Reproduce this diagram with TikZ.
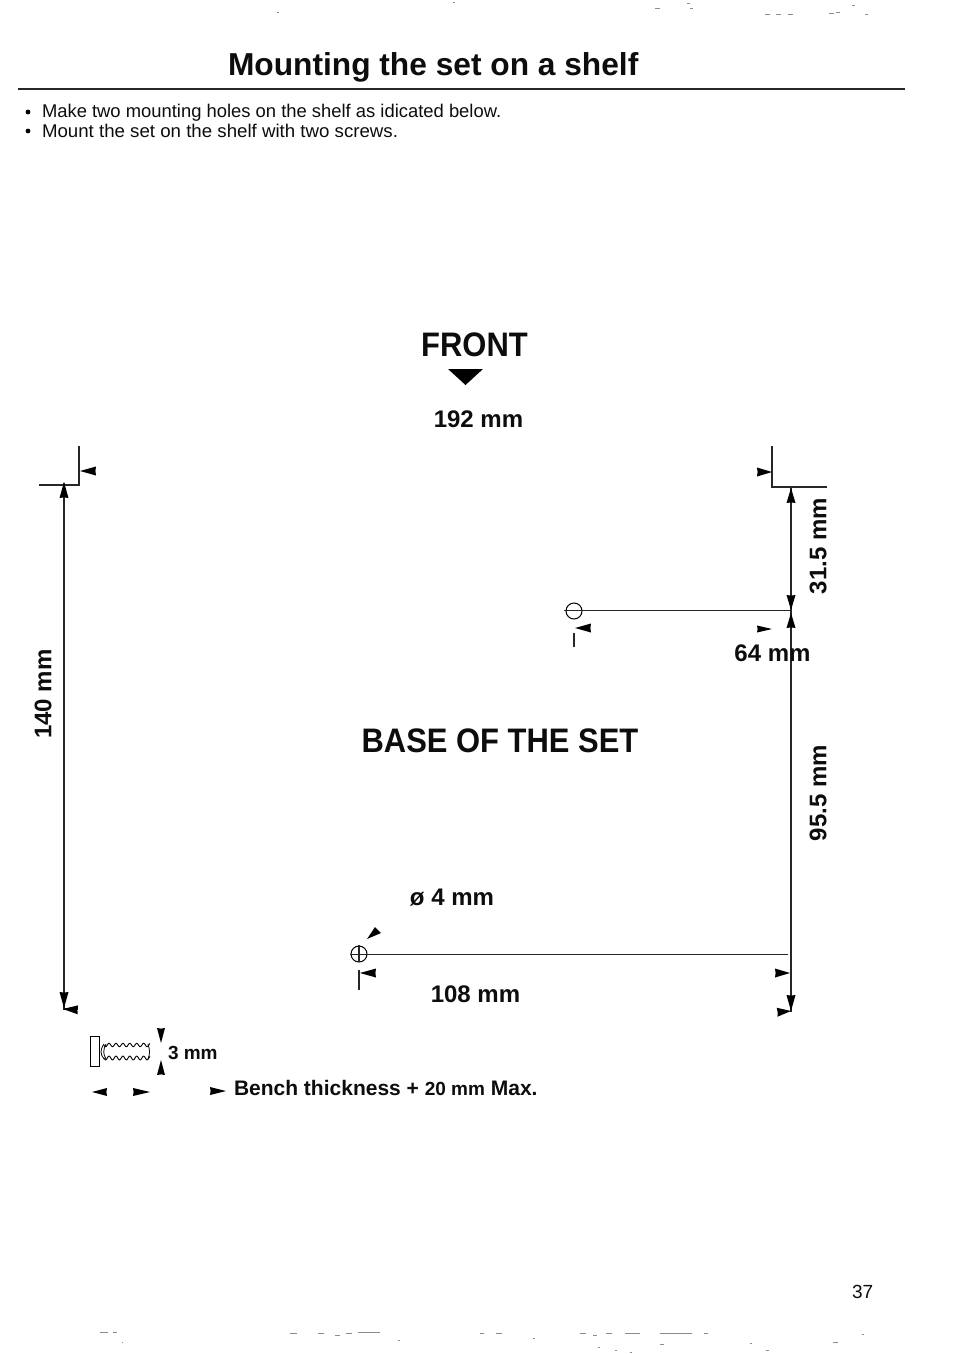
\documentclass[tikz,border=0pt]{standalone}
\usepackage{fontspec}
\setmainfont{Liberation Sans}
\newcommand\ahead[5]{\fill[black,shift={(#1,#2)},rotate=#3] (0,0) -- (-#4,#5) -- (-#4+.6,0) -- (-#4,-#5) -- cycle;}
\newcommand\fsz[1]{\fontsize{#1}{#1}\selectfont}
\tikzset{
  lbl/.style={inner sep=0pt,outer sep=0pt,text=black!95},
  dim/.style={lbl,font=\fsz{24}\bfseries},
  big/.style={lbl,font=\fsz{34}\bfseries,xscale=.91},
  body/.style={lbl,anchor=base west,font=\fsz{18.4}},
  ln/.style={line width=1.1pt,black!85},
  hole/.style={circle,draw=black,line width=1pt,minimum size=16pt,inner sep=0pt},
  speck/.style={line width=.6pt,black!45}
}
\begin{document}
\begin{tikzpicture}[x=1pt,y=-1pt]
\useasboundingbox[fill=white] (0,0) rectangle (954,1354);
% header
\node[lbl,anchor=west,font=\fsz{31.7}\bfseries] (title) at (228,67.5) {Mounting the set on a shelf};
\coordinate (ruleL) at (18,89); \coordinate (ruleR) at (905,89);
\draw[ln] (ruleL) -- (ruleR);
\node[body] (b1) at (42,117) {Make two mounting holes on the shelf as idicated below.};
\node[body,xscale=1.015] (b2) at (42,137) {Mount the set on the shelf with two screws.};
\fill (28,112) circle (2.4); \fill (28,131) circle (2.4);
% front
\node[big] (front) at (474.5,345) {FRONT};
\fill (448,369) -- (483,369) -- (465.5,385) -- cycle;
\node[dim] (d192) at (478.5,419) {192 mm};
\node[big] (base) at (500,741) {BASE OF THE SET};
% left corner
\coordinate (lt) at (79,446); \coordinate (lc) at (79,485); \coordinate (lh) at (39,485);
\draw[ln] (lt) -- (lc) -- (lh);
\ahead{80}{471}{180}{16}{4.5}
% left dim
\coordinate (l1) at (64,483); \coordinate (l2) at (64,1009); \coordinate (l3) at (78,1009);
\draw[ln] (l1) -- (l2) -- (l3);
\ahead{64}{482}{90}{16}{4.5}
\ahead{64}{1008}{270}{16}{4.5}
\ahead{63}{1009}{177}{15}{4.5}
\node[lbl,rotate=90,font=\fsz{24}\bfseries] (d140) at (43,694) {140 mm};
% right corner
\coordinate (rt) at (772,446); \coordinate (rc) at (772,487); \coordinate (rh) at (827,487);
\draw[ln] (rt) -- (rc) -- (rh);
\ahead{772}{472}{0}{15}{4.5}
% right dim
\coordinate (r1) at (791,487); \coordinate (r2) at (791,1012);
\draw[ln] (r1) -- (r2);
\ahead{791}{488}{90}{15}{4.5}
\ahead{791}{610}{270}{15}{4.5}
\ahead{791}{613}{90}{15}{4.5}
\ahead{791}{1011}{270}{16}{4.5}
\ahead{791}{1011}{5}{14}{4.5}
\node[lbl,rotate=90,font=\fsz{24}\bfseries] (d315) at (818,546) {31.5 mm};
\node[lbl,rotate=90,font=\fsz{24}\bfseries] (d955) at (818,793) {95.5 mm};
% upper hole
\node[hole] (h1) at (574,611) {};
\coordinate (h1e) at (791,610.5); \coordinate (h1w) at (564,610.5);
\draw[ln] (h1w) -- (h1e);
\coordinate (h1a) at (574,633); \coordinate (h1b) at (574,647);
\draw[ln] (h1a) -- (h1b);
\ahead{575}{628}{180}{16}{4.5}
\ahead{772}{629}{0}{15}{3.5}
\node[dim] (d64) at (772.5,653) {64 mm};
% lower hole
\node[hole] (h2) at (359,954) {};
\coordinate (h2e) at (788,954.5); \coordinate (h2w) at (350,954.5);
\draw[ln] (h2w) -- (h2e);
\coordinate (h2t) at (359,945); \coordinate (h2m) at (359,962);
\coordinate (h2n) at (359,970); \coordinate (h2b) at (359,990);
\draw[ln] (h2t) -- (h2m) (h2n) -- (h2b);
\ahead{360}{973}{180}{16}{4.5}
\ahead{790}{973}{0}{15}{4.5}
\fill (367,939) -- (375,927) -- (381,933) -- cycle;
\node[lbl,font=\fsz{24}\bfseries] (d4) at (452,898) {ø 4 mm};
\node[dim] (d108) at (475.5,994) {108 mm};
% screw
\node[draw=black,line width=1pt,inner sep=0pt,minimum width=9pt,minimum height=30pt] (head) at (94.5,1051) {};
\draw[line width=.9pt] plot[domain=104:150,samples=80] (\x,{1045+1.7*sin(\x*52)});
\draw[line width=.9pt] plot[domain=104:150,samples=80] (\x,{1058+1.9*sin(\x*52)});
\draw[line width=.8pt] (104,1044) .. controls (100,1050) and (100,1054) .. (104,1059);
\draw[line width=.8pt] (106,1044) .. controls (103,1050) and (103,1054) .. (106,1059);
\draw[line width=.8pt] (148,1044) .. controls (150,1050) and (150,1054) .. (148,1059);
\ahead{161}{1043}{270}{15}{4}
\ahead{161}{1060}{90}{15}{4}
\node[lbl,anchor=west,font=\fsz{19}\bfseries] (d3) at (168,1053) {3 mm};
\ahead{92}{1092}{180}{15}{4}
\ahead{150}{1092}{0}{17}{4}
\ahead{226}{1091}{0}{16}{4}
\node[lbl,anchor=west,font=\fsz{21}\bfseries] (bench) at (234,1088) {Bench thickness + {\fsz{19}20 mm} Max.};
\node[lbl,anchor=west,font=\fsz{19}] (pg) at (852,1292) {37};
% scan specks
\foreach \a/\b/\c in {277/279/12,453/455/2,655/660/8,687/690/3,690/693/8,765/770/14,776/781/14,788/793/14,829/834/13,836/840/12,852/855/5,865/868/14,
 100/108/1332,113/117/1332,122/123/1342,290/297/1333,318/324/1333,335/340/1335,346/352/1333,358/380/1332,398/400/1340,480/484/1333,496/502/1333,533/535/1338,
 580/586/1333,593/597/1335,606/612/1333,625/640/1333,660/692/1333,704/708/1333,750/752/1343,766/769/1350,833/838/1342,862/864/1334,598/600/1347,615/617/1350,630/632/1352,660/664/1344}
 {\draw[speck] (\a,\c) -- (\b,\c);}
\end{tikzpicture}
\end{document}
